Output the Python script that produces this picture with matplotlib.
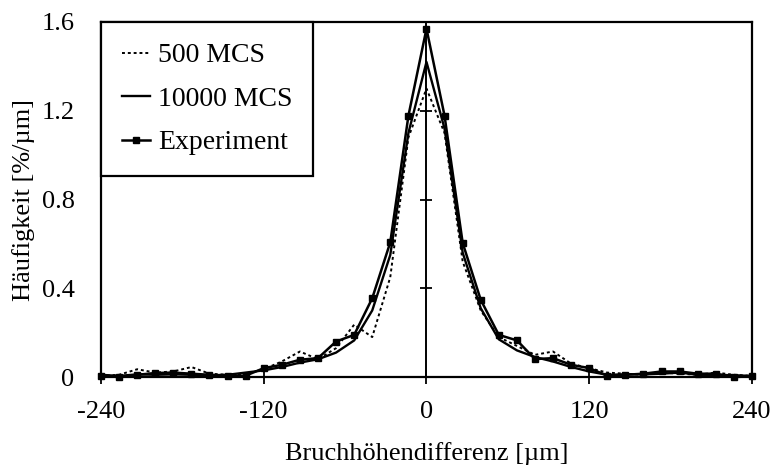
import matplotlib
matplotlib.use("Agg")
import matplotlib.pyplot as plt

# bin centres of the height-difference histogram [um]
x_um = [-240.0, -226.7, -213.3, -200.0, -186.7, -173.3, -160.0, -146.7, -133.3,
        -120.0, -106.7, -93.3, -80.0, -66.7, -53.3, -40.0, -26.7, -13.3,
        0.0,
        13.3, 26.7, 40.0, 53.3, 66.7, 80.0, 93.3, 106.7, 120.0,
        133.3, 146.7, 160.0, 173.3, 186.7, 200.0, 213.3, 226.7, 240.0]

mcs_500 = [0.005, 0.010, 0.035, 0.020, 0.025, 0.045, 0.015, 0.010, 0.015,
           0.035, 0.070, 0.115, 0.080, 0.130, 0.236, 0.180, 0.450, 1.080,
           1.300,
           1.100, 0.520, 0.300, 0.180, 0.140, 0.100, 0.115, 0.060, 0.040,
           0.020, 0.015, 0.010, 0.020, 0.015, 0.010, 0.020, 0.010, 0.005]

mcs_10000 = [0.010, 0.005, 0.012, 0.010, 0.012, 0.010, 0.008, 0.010, 0.020,
             0.030, 0.045, 0.065, 0.080, 0.110, 0.165, 0.300, 0.550, 1.100,
             1.420,
             1.120, 0.560, 0.310, 0.170, 0.120, 0.090, 0.070, 0.045, 0.025,
             0.010, 0.012, 0.012, 0.015, 0.020, 0.010, 0.010, 0.008, 0.005]

experiment = [0.005, 0.000, 0.010, 0.018, 0.020, 0.015, 0.010, 0.006, 0.006,
              0.040, 0.055, 0.078, 0.085, 0.160, 0.190, 0.355, 0.607, 1.178,
              1.570,
              1.178, 0.604, 0.348, 0.190, 0.165, 0.081, 0.085, 0.055, 0.040,
              0.006, 0.010, 0.015, 0.025, 0.025, 0.015, 0.015, 0.000, 0.003]

x_ticks = [-240, -120, 0, 120, 240]
y_ticks = [0, 0.4, 0.8, 1.2, 1.6]
y_labels = ["0", "0.4", "0.8", "1.2", "1.6"]
mid_ticks = [0.4, 0.8, 1.2]

plt.rcParams["font.family"] = ["Liberation Serif", "DejaVu Serif"]
plt.rcParams["font.size"] = 19
plt.rcParams["axes.unicode_minus"] = False

fig = plt.figure(figsize=(7.75, 4.74), dpi=100)
ax = fig.add_axes([0.1303, 0.2046, 0.84, 0.749])

ax.plot(x_um, mcs_500, color="black", lw=1.4, linestyle=(0, (1.5, 1.5)),
        label="500 MCS", clip_on=False)
ax.plot(x_um, mcs_10000, color="black", lw=1.7, label="10000 MCS", clip_on=False)
ax.plot(x_um, experiment, color="black", lw=1.8, marker="s", markersize=4.5,
        label="Experiment", clip_on=False)

ax.set_xlim(-240, 240)
ax.set_ylim(0, 1.6)
ax.set_xticks(x_ticks)
ax.set_yticks(y_ticks, labels=y_labels)
ax.tick_params(axis="x", direction="inout", length=10, width=1.3, pad=12)
ax.tick_params(axis="y", length=0, pad=19)
for s in ax.spines.values():
    s.set_linewidth(1.6)

# vertical axis through x = 0 with crossing tick marks
mid = ax.secondary_yaxis(0.5)
mid.set_yticks(mid_ticks)
mid.tick_params(direction="inout", length=9, width=1.3,
                labelleft=False, labelright=False)
mid.spines["right"].set_linewidth(1.4)

ax.set_xlabel("Bruchhöhendifferenz [µm]", labelpad=14)
ax.set_ylabel("Häufigkeit [%/µm]", labelpad=5)

leg = ax.legend(loc="upper left", borderaxespad=0, fancybox=False,
                edgecolor="black", framealpha=1, fontsize=20,
                handlelength=1.0, handletextpad=0.3, labelspacing=0.65,
                borderpad=0.75)
leg.get_frame().set_linewidth(1.6)

fig.savefig("out.png", dpi=100)
